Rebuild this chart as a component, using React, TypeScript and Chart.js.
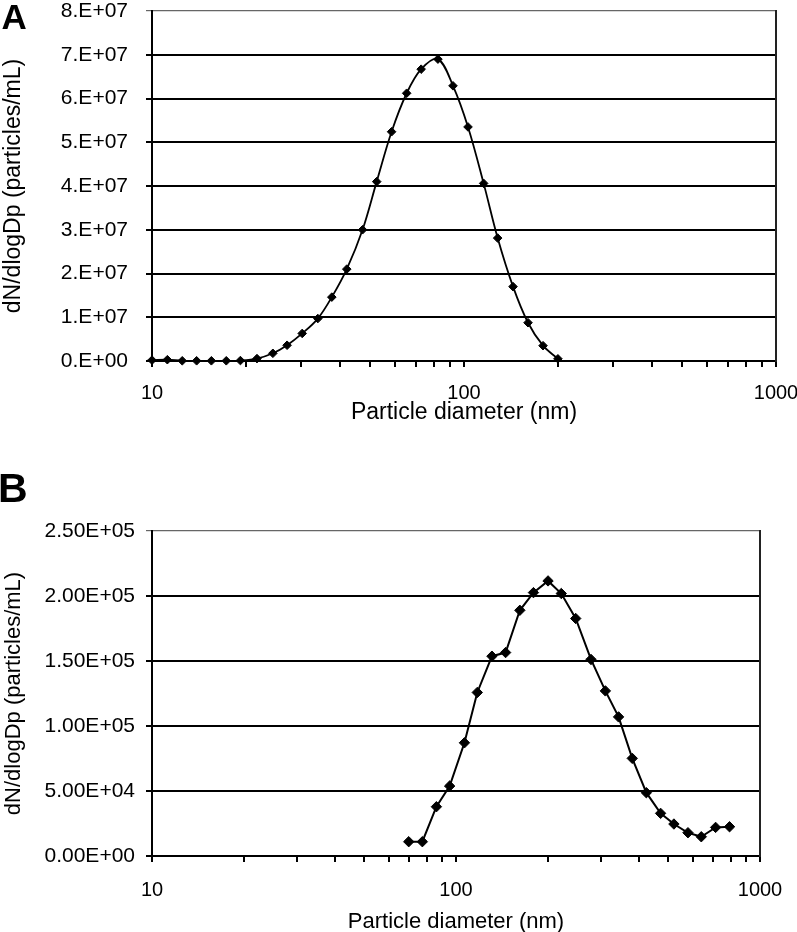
import React, { useEffect, useRef } from 'react';
import { Chart, registerables } from 'chart.js';

Chart.register(...registerables);

// ---------- data ----------
const X_TICKS = [10, 20, 30, 40, 50, 60, 70, 80, 90, 100, 200, 300, 400, 500, 600, 700, 800, 900, 1000];
const X_LABELED = [10, 100, 1000];

const X_TITLE = 'Particle diameter (nm)';
const Y_TITLE = 'dN/dlogDp (particles/mL)';

// Panel A
const A_DIAMETER = [10, 11.2, 12.5, 13.9, 15.5, 17.3, 19.2, 21.7, 24.4, 27.1, 30.3, 34.0, 37.7, 42.1, 47.3, 52.5, 58.6, 65.5, 72.9, 82.5, 92.2, 103, 115.6, 128.2, 143.6, 160.4, 179.2, 200];
const A_CONC = [2e5, 3e5, 5e4, 5e4, 5e4, 5e4, 1e5, 5.5e5, 1.76e6, 3.6e6, 6.3e6, 9.7e6, 1.46e7, 2.1e7, 3.0e7, 4.1e7, 5.24e7, 6.12e7, 6.67e7, 6.9e7, 6.29e7, 5.35e7, 4.06e7, 2.81e7, 1.70e7, 8.75e6, 3.5e6, 5e5];
const A_Y_MAX = 8e7;
const A_Y_STEP = 1e7;

// Panel B
const B_DIAMETER = [69.9, 77.5, 86.2, 95.3, 106.6, 117.5, 131.3, 145.6, 162.2, 179.8, 200.8, 222, 247.6, 278, 310, 342.6, 380, 422.8, 471, 521, 579.5, 641, 714.5, 794];
const B_CONC = [1.1e4, 1.1e4, 3.79e4, 5.38e4, 8.71e4, 1.258e5, 1.537e5, 1.565e5, 1.89e5, 2.026e5, 2.116e5, 2.019e5, 1.827e5, 1.512e5, 1.27e5, 1.07e5, 7.51e4, 4.87e4, 3.28e4, 2.46e4, 1.79e4, 1.48e4, 2.2e4, 2.25e4];
const B_Y_MAX = 2.5e5;
const B_Y_STEP = 5e4;

const FONT = '"Liberation Sans", Arial, sans-serif';

function sci(v: number, decimals: number): string {
  const dot = decimals === 0 ? '.' : '';
  if (v === 0) return (0).toFixed(decimals) + dot + 'E+00';
  const exp = Math.floor(Math.log10(Math.abs(v)) + 1e-9);
  const mant = v / Math.pow(10, exp);
  return mant.toFixed(decimals) + dot + 'E' + (exp >= 0 ? '+' : '-') + String(Math.abs(exp)).padStart(2, '0');
}

interface Panel {
  xs: number[];
  ys: number[];
  yMax: number;
  yStep: number;
  decimals: number;
  padTop: number;
  padRight: number;
  xHeight: number;
  xTickPad: number;
  xTitlePad: number;
  xTitleLH: number;
  yTickPad: number;
  yTitlePad: number;
  titleSize: number;
  lineWidth: number;
  pointRadius: number;
  tension: number;
}

function makeConfig(p: Panel): any {
  return {
    type: 'line',
    data: {
      datasets: [
        {
          data: p.xs.map((x, i) => ({ x, y: p.ys[i] })),
          borderColor: '#000',
          borderWidth: p.lineWidth,
          pointStyle: 'rectRot',
          pointRadius: p.pointRadius,
          pointBackgroundColor: '#000',
          pointBorderColor: '#000',
          pointBorderWidth: 1,
          tension: p.tension,
          fill: false,
          clip: false,
        },
      ],
    },
    options: {
      responsive: false,
      maintainAspectRatio: false,
      animation: false,
      events: [],
      layout: { padding: { left: 0, top: p.padTop, right: p.padRight, bottom: 0 } },
      plugins: { legend: { display: false }, tooltip: { enabled: false }, title: { display: false } },
      scales: {
        x: {
          type: 'logarithmic',
          position: 'bottom',
          min: 10,
          max: 1000,
          afterBuildTicks: (s: any) => {
            s.ticks = X_TICKS.map((v) => ({ value: v }));
          },
          afterFit: (s: any) => {
            s.height = p.xHeight;
            s.paddingLeft = 0;
            s.paddingRight = 0;
          },
          ticks: {
            autoSkip: false,
            maxRotation: 0,
            minRotation: 0,
            padding: p.xTickPad,
            color: '#000',
            font: { family: FONT, size: 20 },
            callback: (v: number) => (X_LABELED.includes(v) ? String(v) : ''),
          },
          grid: { display: true, drawOnChartArea: false, drawTicks: true, tickLength: 6, color: '#000', lineWidth: 2 },
          border: { display: true, color: '#000', width: 2 },
          title: {
            display: true,
            text: X_TITLE,
            color: '#000',
            font: { family: FONT, size: p.titleSize, lineHeight: p.xTitleLH },
            padding: { top: 0, bottom: p.xTitlePad },
          },
        },
        y: {
          type: 'linear',
          position: 'left',
          min: 0,
          max: p.yMax,
          afterFit: (s: any) => {
            s.width = 152;
            s.paddingTop = 0;
            s.paddingBottom = 0;
          },
          ticks: {
            stepSize: p.yStep,
            padding: p.yTickPad,
            color: '#000',
            font: { family: FONT, size: 21 },
            callback: (v: number) => sci(v, p.decimals),
          },
          grid: {
            display: true,
            drawTicks: true,
            tickLength: 6,
            color: (c: any) => (c.tick && c.tick.value === p.yMax ? '#666' : '#000'),
            lineWidth: (c: any) => (c.tick && c.tick.value === p.yMax ? 1.2 : 2),
          },
          border: { display: true, color: '#000', width: 2 },
          title: {
            display: true,
            text: Y_TITLE,
            color: '#000',
            font: { family: FONT, size: p.titleSize, lineHeight: 1 },
            padding: { top: p.yTitlePad, bottom: 0 },
          },
        },
        y2: {
          type: 'linear',
          position: 'right',
          min: 0,
          max: p.yMax,
          display: true,
          afterFit: (s: any) => {
            s.width = 0;
            s.paddingTop = 0;
            s.paddingBottom = 0;
          },
          ticks: { display: false },
          grid: { display: true, drawOnChartArea: false, drawTicks: false },
          border: { display: true, color: '#222', width: 2 },
        },
      },
    },
  };
}

function ChartPanel({ panel, width, height }: { panel: Panel; width: number; height: number }) {
  const ref = useRef<HTMLCanvasElement | null>(null);
  useEffect(() => {
    if (!ref.current) return;
    const chart = new Chart(ref.current, makeConfig(panel));
    return () => chart.destroy();
  }, [panel]);
  return <canvas ref={ref} width={width} height={height} style={{ width, height, display: 'block' }} />;
}

const PANEL_A: Panel = {
  xs: A_DIAMETER,
  ys: A_CONC,
  yMax: A_Y_MAX,
  yStep: A_Y_STEP,
  decimals: 0,
  padTop: 11,
  padRight: 21,
  xHeight: 79,
  xTickPad: 14.5,
  xTitlePad: 15.5,
  xTitleLH: 1,
  yTickPad: 18,
  yTitlePad: 2.5,
  titleSize: 23,
  lineWidth: 1.8,
  pointRadius: 4.3,
  tension: 0.35,
};

const PANEL_B: Panel = {
  xs: B_DIAMETER,
  ys: B_CONC,
  yMax: B_Y_MAX,
  yStep: B_Y_STEP,
  decimals: 2,
  padTop: 91,
  padRight: 37,
  xHeight: 76,
  xTickPad: 16,
  xTitlePad: 0.4,
  xTitleLH: 0.9,
  yTickPad: 11,
  yTitlePad: 3,
  titleSize: 22,
  lineWidth: 2,
  pointRadius: 5.2,
  tension: 0,
};

export default function App() {
  return (
    <div style={{ position: 'absolute', left: 0, top: 0, width: 797, height: 932, background: '#fff', overflow: 'hidden' }}>
      <div style={{ position: 'absolute', left: 0, top: 0 }}>
        <ChartPanel panel={PANEL_A} width={797} height={440} />
      </div>
      <div style={{ position: 'absolute', left: 0, top: 440 }}>
        <ChartPanel panel={PANEL_B} width={797} height={492} />
      </div>
      <div
        style={{
          position: 'absolute',
          left: 1.5,
          top: -1.3,
          fontFamily: FONT,
          fontWeight: 'bold',
          fontSize: 35,
          lineHeight: '35px',
          color: '#000',
        }}
      >
        A
      </div>
      <div
        style={{
          position: 'absolute',
          left: -2,
          top: 468,
          fontFamily: FONT,
          fontWeight: 'bold',
          fontSize: 41,
          lineHeight: '41px',
          color: '#000',
        }}
      >
        B
      </div>
    </div>
  );
}
